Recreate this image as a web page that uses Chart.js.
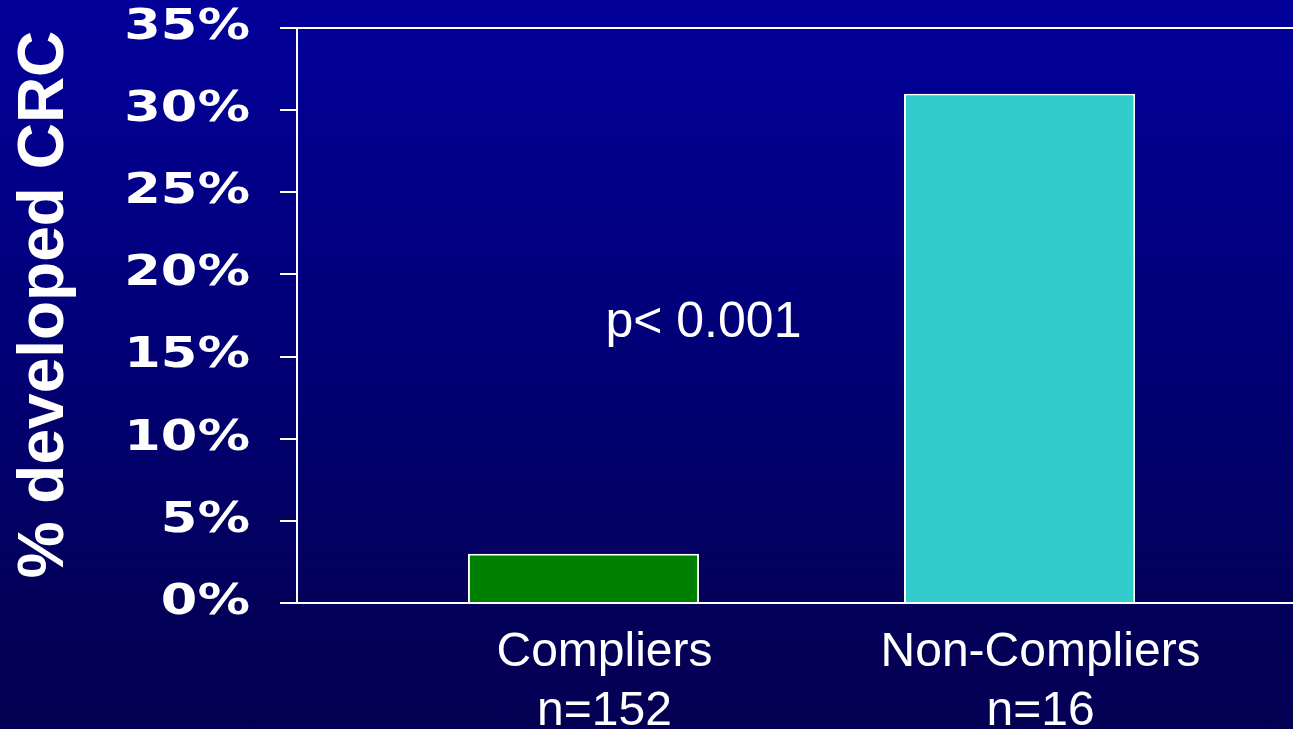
<!DOCTYPE html>
<html>
<head>
<meta charset="utf-8">
<title>% developed CRC</title>
<script src="https://cdn.jsdelivr.net/npm/chart.js@4.4.1/dist/chart.umd.min.js"></script>
<style>
  html, body {
    margin: 0;
    padding: 0;
    width: 1293px;
    height: 729px;
    overflow: hidden;
    background: linear-gradient(to bottom, #03009a 0%, #020078 45%, #030058 85%, #030054 100%);
  }
  canvas { display: block; }
</style>
</head>
<body>
<canvas id="chart" width="1293" height="729"></canvas>
<script>
// Groups, their sizes and the share of each group that developed CRC (%)
const CATEGORIES = ['Compliers', 'Non-Compliers'];
const GROUP_SIZES = ['n=152', 'n=16'];
const CRC_PERCENT = [3, 31];
const Y_TICKS = [0, 5, 10, 15, 20, 25, 30, 35];
const P_VALUE_TEXT = 'p< 0.001';

// Where the p-value note sits, in axis units
const P_LABEL_AT = { x: 1.275, y: 16.2 };

const WHITE = '#ffffff';

// Widens the y tick labels around their right-aligned anchor and lifts the axis title a little
const yAxisStyling = {
  id: 'yAxisStyling',
  beforeDraw(chart) {
    const s = chart.scales.y;
    if (!s || s._styled) return;
    const drawLabels = s.drawLabels;
    s.drawLabels = function (area) {
      const ctx = this.ctx;
      const anchor = this.right - this.options.grid.tickLength - this.options.ticks.padding;
      ctx.save();
      ctx.translate(anchor - 3, 0);
      ctx.scale(1.25, 1);
      ctx.translate(-anchor, 0);
      drawLabels.call(this, area);
      ctx.restore();
    };
    const drawTitle = s.drawTitle;
    s.drawTitle = function () {
      const ctx = this.ctx;
      ctx.save();
      ctx.translate(0, -11);
      drawTitle.call(this);
      ctx.restore();
    };
    s._styled = true;
  }
};

// Significance note inside the plot
const pValueNote = {
  id: 'pValueNote',
  afterDraw(chart) {
    const { ctx, scales: { x, y } } = chart;
    ctx.save();
    ctx.font = '50px "Liberation Sans", Arial, sans-serif';
    ctx.fillStyle = WHITE;
    ctx.textAlign = 'center';
    ctx.textBaseline = 'alphabetic';
    ctx.fillText(P_VALUE_TEXT, x.getPixelForValue(P_LABEL_AT.x), y.getPixelForValue(P_LABEL_AT.y));
    ctx.restore();
  }
};

new Chart(document.getElementById('chart'), {
  type: 'bar',
  data: {
    datasets: [{
      data: CATEGORIES.map((c, i) => ({ x: i + 1, y: CRC_PERCENT[i] })),
      backgroundColor: ['#008000', '#33CCCC'],
      borderColor: WHITE,
      borderWidth: 2,
      borderSkipped: 'bottom',
      categoryPercentage: 1,
      barPercentage: 0.53
    }]
  },
  options: {
    responsive: false,
    devicePixelRatio: 1,
    animation: false,
    layout: { padding: { top: 28, left: 0, right: 0, bottom: 0 } },
    plugins: {
      legend: { display: false },
      tooltip: { enabled: false }
    },
    scales: {
      x: {
        type: 'linear',
        offset: false,
        min: 0.343,
        max: 2.627,
        afterBuildTicks: (s) => { s.ticks = CATEGORIES.map((c, i) => ({ value: i + 1 })); },
        afterFit: (s) => { s.height = 126; },
        grid: { display: false, drawTicks: false },
        border: { display: true, color: WHITE, width: 2 },
        ticks: {
          color: WHITE,
          autoSkip: false,
          maxRotation: 0,
          padding: 20,
          labelOffset: 21,
          font: { family: '"Liberation Sans", Arial, sans-serif', size: 48, lineHeight: 1.23 },
          callback: (v, i) => [CATEGORIES[i], GROUP_SIZES[i]]
        }
      },
      y: {
        position: 'left',
        min: 0,
        max: 35,
        afterBuildTicks: (s) => { s.ticks = Y_TICKS.map(v => ({ value: v })); },
        afterFit: (s) => { s.width = 297; },
        grid: {
          drawOnChartArea: true,
          color: (ctx) => (ctx.tick && ctx.tick.value === 35 ? WHITE : 'rgba(0,0,0,0)'),
          lineWidth: 2,
          tickColor: WHITE,
          tickLength: 17,
          tickWidth: 2
        },
        border: { display: true, color: WHITE, width: 2 },
        ticks: {
          color: WHITE,
          padding: 27,
          font: { family: '"DejaVu Sans", Verdana, sans-serif', size: 42, weight: 'bold', lineHeight: 0.01 },
          callback: (v) => v + '%'
        },
        title: {
          display: true,
          text: '% developed CRC',
          color: WHITE,
          font: { family: '"Liberation Sans", Arial, sans-serif', size: 64, weight: 'bold', lineHeight: 1 },
          padding: { top: 13, bottom: 0 }
        }
      }
    }
  },
  plugins: [yAxisStyling, pValueNote]
});
</script>
</body>
</html>
